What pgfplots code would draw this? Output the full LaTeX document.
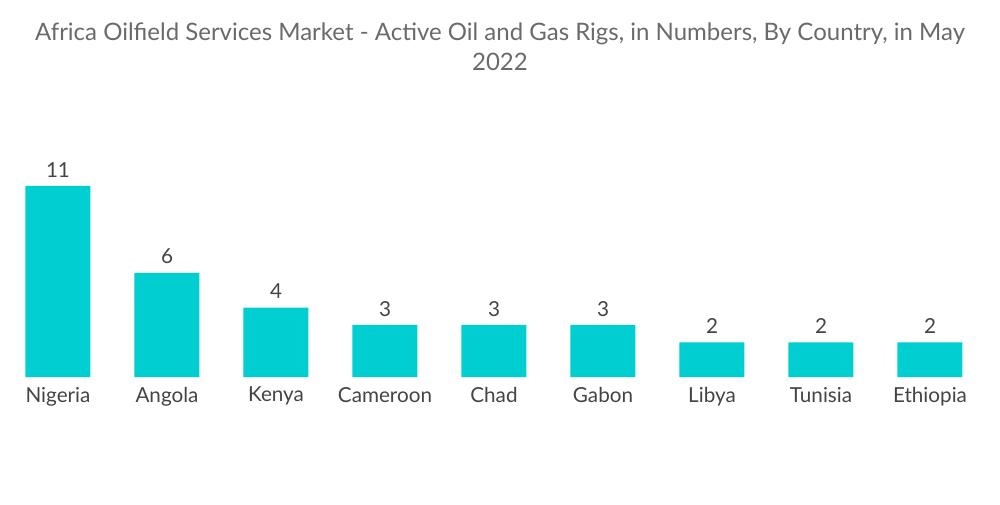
\documentclass[border=0pt]{standalone}
\usepackage{pgfplots}
\pgfplotsset{compat=1.18}
\usepackage{fontspec}
\setmainfont{Lato}
\definecolor{barc}{HTML}{00CED1}
\definecolor{titc}{HTML}{6A6A6A}
\definecolor{labc}{HTML}{444444}
\begin{document}
\begin{tikzpicture}[x=0.75pt,y=0.75pt]
\path[use as bounding box] (0,0) rectangle (1000,504);
\node[text=titc, font=\fontsize{18}{22.5}\selectfont, align=center] at (500,457) {Africa Oilfield Services Market - Active Oil and Gas Rigs, in Numbers, By Country, in May\\2022};
\begin{axis}[
  at={(3.5*0.75pt,127*0.75pt)}, anchor=south west,
  scale only axis, width=735.75pt, height=156.3pt,
  xmin=-0.5, xmax=8.5, ymin=0, ymax=12,
  axis lines=none,
  ybar, bar width=48.75pt,
  xtick=data,
  clip=false,
  nodes near coords,
  /pgf/number format/assume math mode=true,
  every node near coord/.append style={text=labc, font=\fontsize{15.5}{17}\selectfont, yshift=3pt},
]
\addplot[fill=barc, draw=none] coordinates {(0,11) (1,6) (2,4) (3,3) (4,3) (5,3) (6,2) (7,2) (8,2)};
\end{axis}
\begin{axis}[
  at={(3.5*0.75pt,127*0.75pt)}, anchor=south west,
  scale only axis, width=735.75pt, height=156.3pt,
  xmin=-0.5, xmax=8.5, ymin=0, ymax=12,
  hide y axis, axis x line*=bottom, x axis line style={draw=none},
  xtick={0,...,8}, major tick length=0pt,
  xticklabels={Nigeria,Angola,Kenya,Cameroon,Chad,Gabon,Libya,Tunisia,Ethiopia},
  xticklabel style={text=labc, font=\fontsize{15.5}{17}\selectfont, yshift=-4pt},
]
\end{axis}
\end{tikzpicture}
\end{document}
